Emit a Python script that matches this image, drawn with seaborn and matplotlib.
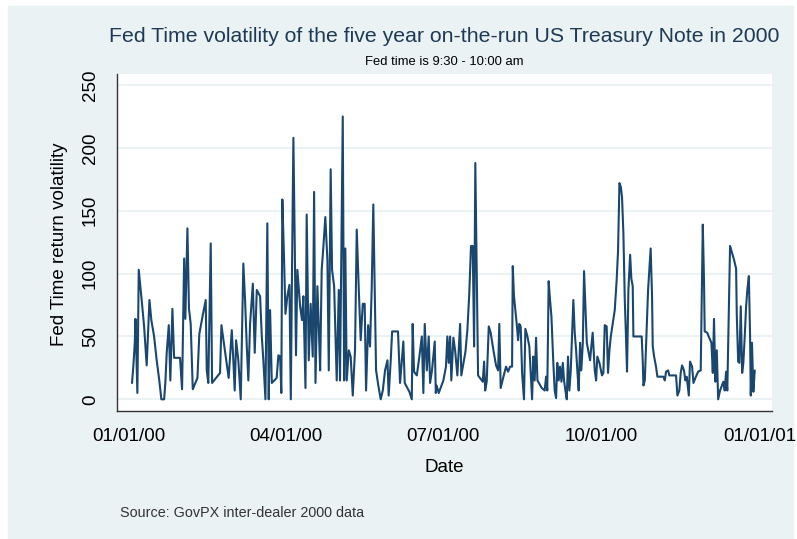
import pandas as pd
import numpy as np
import matplotlib
matplotlib.use("Agg")
import matplotlib.pyplot as plt
import matplotlib.dates as mdates
from matplotlib.patches import Rectangle
import seaborn as sns

sns.set_style("white")
plt.rcParams['font.family'] = ['Liberation Sans', 'DejaVu Sans']

# Data: day offset from 01/01/2000 and the volatility value
day_offset = [
    2.0, 2.8, 3.6, 4.0, 5.1, 5.9, 6.7, 7.8, 9.0, 9.8, 10.5, 12.1, 13.2, 14.8, 16.3, 17.8,
    19.0, 20.6, 21.3, 22.1, 23.3, 24.2, 25.4, 26.4, 29.8, 31.0, 32.2, 32.9, 34.1, 35.0,
    36.0, 37.2, 39.9, 41.0, 43.0, 44.7, 45.3, 46.2, 47.6, 48.4, 53.0, 53.8, 55.0, 58.0,
    59.8, 60.7, 61.5, 62.3, 63.6, 65.0, 66.5,
    67.5, 68.5, 69.4, 70.4, 72.0, 73.1, 74.3, 76.2, 77.2, 78.1, 79.3, 80.4, 81.2, 82.0,
    83.0, 85.8, 86.8, 87.8, 88.5, 89.1, 90.1, 90.9, 92.0, 93.2, 94.0, 94.7, 95.5, 96.3,
    97.0, 97.8, 99.4, 100.5, 101.3, 102.5, 103.2, 104.4, 105.5, 106.7, 107.5, 108.3,
    109.4, 110.2, 111.0, 111.9, 112.9, 114.0, 115.2, 116.0, 117.1, 117.9, 119.1, 120.6,
    121.8, 122.5, 123.3, 124.1, 124.9, 125.6, 126.4, 127.6, 128.7, 129.9, 131.2, 132.2,
    133.4, 134.5, 135.7, 136.8, 137.6, 138.8, 139.9, 140.9, 141.8, 142.6, 143.4, 144.7,
    146.1, 147.3, 148.6, 150.0, 150.7, 151.9, 152.7, 156.1, 157.3, 159.2, 160.0, 162.7,
    164.1, 164.6, 165.4, 167.0, 168.5, 169.9, 170.8, 171.6, 172.8, 173.9, 174.7, 175.8,
    177.4, 178.0, 178.5, 179.7, 182.4, 183.9, 184.7, 185.5, 186.3, 187.0, 188.2, 189.2,
    190.5, 192.1, 192.8, 195.2, 196.3, 197.4, 198.4, 199.4, 200.2, 200.9, 201.7, 202.5,
    205.2, 206.0, 206.6, 207.5, 208.7, 209.8, 211.4, 212.9, 214.1, 214.8, 215.6, 217.2,
    218.7, 219.9, 221.0, 222.2, 222.6, 223.3, 224.9, 225.7, 226.4, 227.2, 228.0, 229.1,
    229.9, 231.1, 232.2, 233.0, 233.8, 234.5, 235.3, 236.1, 236.9, 239.4, 241.1, 241.9,
    242.6, 243.4, 244.2, 245.0, 246.1, 246.9, 247.7, 248.4, 249.2, 250.0, 250.8, 251.6,
    252.3, 253.1, 253.9, 254.6, 255.4, 256.2, 257.0, 257.7, 258.5, 259.3, 260.0, 260.8,
    261.6, 262.3, 263.2, 263.9, 264.7, 265.5, 266.6, 267.4, 268.1, 268.9, 270.1, 270.9,
    271.6, 272.8, 274.3, 275.1, 275.9, 277.0, 277.8, 278.6, 279.4, 280.5, 281.7, 282.8,
    283.6, 284.4, 285.2, 285.9, 286.7, 287.5, 288.2, 288.8, 289.6, 290.6, 291.3, 292.1,
    292.5,
    297.3, 297.9, 298.3, 299.1, 299.8, 300.2, 301.0, 301.7, 302.5, 303.3, 303.7, 304.5,
    305.6, 306.4, 309.8, 310.7, 311.4, 312.6, 313.3, 317.2, 318.0, 319.1, 319.9, 320.7,
    321.8, 322.6, 323.4, 324.6, 325.3, 326.5, 327.3, 328.4, 330.0, 331.5, 332.7, 333.4,
    333.8, 335.3, 336.1, 337.7, 338.5, 339.2, 340.0, 340.8, 341.6, 342.7, 344.6, 345.4,
    346.2, 346.9, 347.7, 348.5, 350.8, 352.0, 352.4, 353.2, 353.9, 354.7, 355.5, 356.2,
    357.0, 357.8, 358.5, 359.4, 360.1, 360.5, 361.2, 362.0, 362.8,
]
volatility = [
    13, 27, 45, 64, 5, 103, 92, 76, 58, 42, 27, 79, 63, 50, 31, 15,
    0, 0, 13, 37, 59, 15, 72, 33, 33, 8, 112, 64, 136, 72,
    60, 8, 17, 52, 67, 79, 23, 13, 124, 13, 21, 59, 47, 17,
    55, 31, 7, 47, 31, 0, 108,
    79, 42, 15, 60, 92, 37, 87, 82, 50, 31, 0, 140, 0, 71,
    13, 17, 35, 34, 5, 159, 111, 68, 82, 91, 0, 103, 208, 122,
    35, 103, 74, 63, 82, 9, 147, 31, 76, 34, 165, 13,
    90, 58, 23, 103, 122, 145, 111, 23, 183, 103, 90, 15,
    87, 15, 120, 225, 15, 120, 15, 39, 34, 3, 39, 135,
    87, 47, 76, 76, 7, 59, 42, 90, 155, 90, 23, 11,
    0, 7, 23, 31, 3, 31, 54, 54, 13, 46, 13, 6,
    0, 60, 22, 19, 34, 50, 5, 60, 23, 50, 13, 23,
    46, 5, 11, 5, 15, 26, 50, 29, 50, 15, 49, 39,
    19, 60, 19, 38, 55, 84, 122, 122, 42, 188, 103, 19,
    14, 30, 7, 14, 58, 53, 39, 27, 23, 60, 9, 18,
    26, 22, 26, 26, 106, 82, 60, 47, 60, 58, 21, 0,
    56, 50, 42, 21, 0, 34, 15, 49, 15, 9, 7, 18,
    7, 94, 79, 66, 29, 7, 1, 29, 15, 26, 14, 29,
    15, 7, 0, 34, 7, 23, 53, 79, 53, 39, 23, 7,
    45, 23, 45, 102, 74, 45, 37, 31, 42, 53, 23, 15,
    34, 29, 19, 21, 59, 58, 21, 39, 50, 60, 71, 95,
    118, 172, 169, 161, 132, 79, 50, 22, 87, 115, 96, 90,
    50,
    50, 31, 11, 15, 42, 56, 87, 103, 120, 82, 42, 34,
    26, 18, 18, 15, 22, 23, 19, 19, 3, 7, 21, 27,
    23, 15, 18, 3, 30, 26, 13, 17, 22, 23, 139, 95,
    54, 53, 50, 45, 21, 64, 14, 39, 0, 7, 14, 7,
    22, 7, 64, 122, 111, 104, 67, 30, 29, 74, 21, 29,
    50, 74, 87, 98, 50, 3, 45, 6, 23,
]

y_ticks = [0, 50, 100, 150, 200, 250]
x_tick_dates = ["2000-01-01", "2000-04-01", "2000-07-01", "2000-10-01", "2001-01-01"]

start = pd.Timestamp("2000-01-01")
df = pd.DataFrame({
    "Date": start + pd.to_timedelta(day_offset, unit="D"),
    "vol": volatility,
})

W, H = 797, 539
fig = plt.figure(figsize=(W / 100, H / 100), dpi=100, facecolor="white")
# graph region background (Stata s2color)
fig.patches.append(Rectangle((8 / W, 0), (793 - 8) / W, (H - 6) / H,
                             transform=fig.transFigure, color="#EAF2F3", zorder=-10))

ax = fig.add_axes([117 / W, 1 - 411 / H, (772 - 117) / W, (411 - 74) / H])
ax.set_facecolor("white")

sns.lineplot(data=df, x="Date", y="vol", ax=ax, estimator=None, sort=False,
             color="#1A476F", linewidth=1.5)

ax.set_xlim(start - pd.Timedelta(days=6.7), start + pd.Timedelta(days=372.8))
ax.set_ylim(-9.3, 258.8)

ax.set_yticks(y_ticks)
ax.set_xticks(pd.to_datetime(x_tick_dates))
ax.xaxis.set_major_formatter(mdates.DateFormatter("%m/%d/%y"))

ax.grid(axis="y", color="#EAF2F3", linewidth=1.5)
ax.grid(axis="x", visible=False)
ax.set_axisbelow(True)

for s in ["top", "right"]:
    ax.spines[s].set_visible(False)
for s in ["left", "bottom"]:
    ax.spines[s].set_color("#333333")
    ax.spines[s].set_linewidth(1.0)

ax.tick_params(axis="both", direction="out", length=6, width=1, color="#555555",
               labelsize=13.5, labelcolor="black")
ax.tick_params(axis="x", pad=6.5)
ax.tick_params(axis="y", pad=7, labelrotation=90)
for lab in ax.get_yticklabels():
    lab.set_va("center")

ax.set_xlabel("")
ax.set_ylabel("")

fig.text(444 / W, 1 - 37 / H, "Fed Time volatility of the five year on-the-run US Treasury Note in 2000",
         ha="center", va="center", fontsize=15.3, color="#1F3A55")
fig.text(444 / W, 1 - 62 / H, "Fed time is 9:30 - 10:00 am",
         ha="center", va="center", fontsize=9.4, color="black")
fig.text(60 / W, 1 - 244.5 / H, "Fed Time return volatility",
         ha="center", va="center", rotation=90, fontsize=13.5, color="black")
fig.text(444 / W, 1 - 468 / H, "Date",
         ha="center", va="center", fontsize=13.5, color="black")
fig.text(120 / W, 1 - 513 / H, "Source: GovPX inter-dealer 2000 data",
         ha="left", va="center", fontsize=10.4, color="#333333")

fig.savefig("out.png", dpi=100, facecolor=fig.get_facecolor())
